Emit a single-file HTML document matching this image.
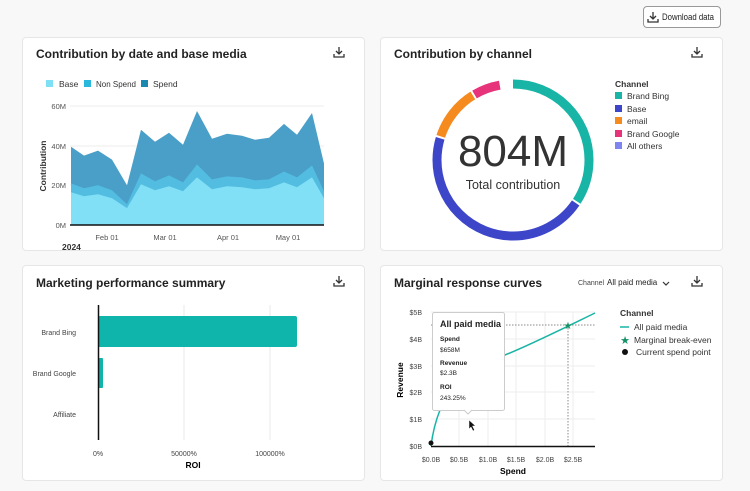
<!DOCTYPE html>
<html><head><meta charset="utf-8"><style>
body{margin:0;width:750px;height:491px;background:#f8f8f8;font-family:"Liberation Sans",sans-serif;position:relative;overflow:hidden;color:#222}
.card{position:absolute;background:#fff;border:1px solid #e6e6e6;border-radius:4px}
.t{position:absolute;font-weight:bold;font-size:12px;color:#222;white-space:nowrap}
.btn{position:absolute;left:643px;top:6px;width:78px;height:22px;border:1px solid #999;border-radius:4px;background:#fff;box-sizing:border-box}
svg{position:absolute;left:0;top:0}
</style></head><body>
<div class="btn"></div>
<div class="card" style="left:22px;top:37px;width:341px;height:212px"></div>
<div class="card" style="left:380px;top:37px;width:341px;height:212px"></div>
<div class="card" style="left:22px;top:265px;width:341px;height:214px"></div>
<div class="card" style="left:380px;top:265px;width:341px;height:214px"></div>
<div class="t" style="left:36px;top:47px">Contribution by date and base media</div>
<div class="t" style="left:394px;top:47px">Contribution by channel</div>
<div class="t" style="left:36px;top:276px">Marketing performance summary</div>
<div class="t" style="left:394px;top:276px">Marginal response curves</div>
<svg width="750" height="491" font-family="Liberation Sans, sans-serif">
<text x="662" y="20" font-size="9" fill="#222" textLength="52" lengthAdjust="spacingAndGlyphs">Download data</text>
<g fill="none" stroke="#333" stroke-width="1.3">
<path d="M653 12v7m-3-3l3 3 3-3M648 19v3h10v-3"/>
<path d="M339 47v7m-3-3l3 3 3-3M334 54v3h10v-3"/>
<path d="M697 47v7m-3-3l3 3 3-3M692 54v3h10v-3"/>
<path d="M339 276v7m-3-3l3 3 3-3M334 283v3h10v-3"/>
<path d="M697 276v7m-3-3l3 3 3-3M692 283v3h10v-3"/>
</g>
<g font-size="8.5" fill="#333">
<rect x="46" y="80" width="7" height="7" fill="#7fe0f5"/><text x="59" y="87">Base</text>
<rect x="84" y="80" width="7" height="7" fill="#2ab8dc"/><text x="96" y="87" textLength="40" lengthAdjust="spacingAndGlyphs">Non Spend</text>
<rect x="141" y="80" width="7" height="7" fill="#1a88b0"/><text x="153" y="87">Spend</text>
<g text-anchor="end" fill="#555" font-size="7.5"><text x="66" y="109">60M</text><text x="66" y="149">40M</text><text x="66" y="188">20M</text><text x="66" y="228">0M</text></g>
<g fill="#555" font-size="7.5" text-anchor="middle"><text x="107" y="240">Feb 01</text><text x="165" y="240">Mar 01</text><text x="228" y="240">Apr 01</text><text x="288" y="240">May 01</text></g>
<text x="62" y="250" font-weight="bold" font-size="8.5">2024</text>
<text transform="translate(46,166) rotate(-90)" text-anchor="middle" font-weight="bold" font-size="8.5">Contribution</text>
</g>
<g stroke="#eee"><line x1="70" x2="324" y1="106" y2="106"/><line x1="70" x2="324" y1="146" y2="146"/><line x1="70" x2="324" y1="185" y2="185"/></g>
<path id="sp" fill="#4a9fc8"/><path id="ns" fill="#52bde0"/><path id="bs" fill="#82e0f6"/>
<line x1="70" x2="324" y1="225" y2="225" stroke="#111" stroke-width="1.5"/>
<g fill="none" stroke-width="9">
<circle cx="513" cy="160" r="76" stroke="#18b4a6" stroke-dasharray="163 1000" transform="rotate(-90 513 160)"/>
<circle cx="513" cy="160" r="76" stroke="#3d46c9" stroke-dasharray="0 165 215 1000" transform="rotate(-90 513 160)"/>
<circle cx="513" cy="160" r="76" stroke="#f58a1f" stroke-dasharray="0 382 53 1000" transform="rotate(-90 513 160)"/>
<circle cx="513" cy="160" r="76" stroke="#e6337a" stroke-dasharray="0 437 27 1000" transform="rotate(-90 513 160)"/>
</g>
<text x="513" y="166" text-anchor="middle" font-size="44" fill="#333">804M</text>
<text x="513" y="189" text-anchor="middle" font-size="12.5" fill="#333">Total contribution</text>
<g font-size="8.5" fill="#333">
<text x="615" y="87" font-weight="bold">Channel</text>
<rect x="615" y="92" width="7" height="7" fill="#18b4a6"/><text x="627" y="99">Brand Bing</text>
<rect x="615" y="105" width="7" height="7" fill="#3d46c9"/><text x="627" y="112">Base</text>
<rect x="615" y="117" width="7" height="7" fill="#f58a1f"/><text x="627" y="124">email</text>
<rect x="615" y="130" width="7" height="7" fill="#e6337a"/><text x="627" y="137">Brand Google</text>
<rect x="615" y="142" width="7" height="7" fill="#7e85f0"/><text x="627" y="149">All others</text>
</g>
<g stroke="#e8e8e8"><line x1="184" x2="184" y1="305" y2="440"/><line x1="270" x2="270" y1="305" y2="440"/></g>
<rect x="98" y="316" width="199" height="31" rx="2" fill="#0fb5aa"/>
<rect x="98" y="358" width="5" height="30" rx="1" fill="#0fb5aa"/>
<line x1="98.5" x2="98.5" y1="305" y2="440" stroke="#111" stroke-width="1.5"/>
<g font-size="7" fill="#444" text-anchor="end"><text x="76" y="335">Brand Bing</text><text x="76" y="376">Brand Google</text><text x="76" y="417">Affiliate</text></g>
<g font-size="7" fill="#444" text-anchor="middle"><text x="98" y="456">0%</text><text x="184" y="456">50000%</text><text x="270" y="456">100000%</text></g>
<text x="193" y="468" font-size="8.5" font-weight="bold" text-anchor="middle">ROI</text>
<text x="578" y="285" font-size="7" fill="#444">Channel</text>
<text x="607" y="285" font-size="8" fill="#222">All paid media</text>
<path d="M663 282l3 3 3-3" stroke="#333" fill="none" stroke-width="1.2"/>
<g stroke="#eee"><line x1="431" x2="595" y1="312" y2="312"/><line x1="431" x2="595" y1="339" y2="339"/><line x1="431" x2="595" y1="366" y2="366"/><line x1="431" x2="595" y1="392" y2="392"/><line x1="431" x2="595" y1="419" y2="419"/>
<line x1="459" x2="459" y1="312" y2="446"/><line x1="488" x2="488" y1="312" y2="446"/><line x1="516" x2="516" y1="312" y2="446"/><line x1="545" x2="545" y1="312" y2="446"/><line x1="573" x2="573" y1="312" y2="446"/></g>
<g stroke="#888" stroke-dasharray="1.5 1.5"><line x1="568" x2="568" y1="325" y2="446"/><line x1="431" x2="595" y1="325" y2="325"/></g>
<path d="M431 446 C433 430 436 420 440 410 C455 378 480 365 505 355 C530 345 560 330 595 313" fill="none" stroke="#18b4a6" stroke-width="1.5"/>
<line x1="431" x2="595" y1="446.5" y2="446.5" stroke="#111" stroke-width="1.5"/>
<circle cx="431" cy="443" r="2.5" fill="#111"/>
<text x="568" y="329" font-size="10" fill="#139064" text-anchor="middle">★</text>
<g font-size="7" fill="#444" text-anchor="end"><text x="422" y="315">$5B</text><text x="422" y="342">$4B</text><text x="422" y="369">$3B</text><text x="422" y="395">$2B</text><text x="422" y="422">$1B</text><text x="422" y="449">$0B</text></g>
<g font-size="7" fill="#444" text-anchor="middle"><text x="431" y="462">$0.0B</text><text x="459" y="462">$0.5B</text><text x="488" y="462">$1.0B</text><text x="516" y="462">$1.5B</text><text x="545" y="462">$2.0B</text><text x="573" y="462">$2.5B</text></g>
<text x="513" y="474" font-size="8.5" font-weight="bold" text-anchor="middle">Spend</text>
<text transform="translate(403,380) rotate(-90)" font-size="8.5" font-weight="bold" text-anchor="middle">Revenue</text>
<rect x="432.5" y="312.5" width="72" height="98" rx="2" fill="#fff" stroke="#ccc"/>
<path d="M464 410l4 4 4-4" fill="#fff" stroke="#ccc"/>
<g fill="#222"><text x="440" y="327" font-size="9" font-weight="bold">All paid media</text>
<text x="440" y="341" font-size="6.5" font-weight="bold">Spend</text><text x="440" y="352" font-size="6.5">$658M</text>
<text x="440" y="365" font-size="6.5" font-weight="bold">Revenue</text><text x="440" y="375" font-size="6.5">$2.3B</text>
<text x="440" y="389" font-size="6.5" font-weight="bold">ROI</text><text x="440" y="400" font-size="6.5">243.25%</text></g>
<path d="M469 420l0 9 2-2 2 4 1.5-1-2-4 3 0z" fill="#111" stroke="#fff" stroke-width=".5"/>
<g font-size="8.5" fill="#333">
<text x="620" y="316" font-weight="bold">Channel</text>
<line x1="620" x2="629" y1="327" y2="327" stroke="#18b4a6" stroke-width="1.5"/><text x="634" y="330">All paid media</text>
<text x="625" y="344" font-size="11" fill="#139064" text-anchor="middle">★</text><text x="634" y="343">Marginal break-even</text>
<circle cx="625" cy="352" r="3" fill="#111"/><text x="636" y="355">Current spend point</text>
</g>
</svg>
<script>
var xs=[71,84,98,112,127,141,155,169,183,197,212,227,242,255,269,284,297,312,324];
var S=[39.5,35,37.5,33,20,48,42,46.5,40.5,57.5,43.5,46,45,43,44,51,45.5,56.5,31];
var N=[21,18.5,20,17.5,10.5,26,22,25,21.5,30.5,23,24.5,24,22.5,23,27,24,30,17];
var B=[16.5,14.5,15.5,13.5,8.5,20.5,17.5,19.5,17,24,18,19.5,19,18,18.5,21.5,19,24,13.5];
function p(a){var d="M71 225";for(var i=0;i<xs.length;i++)d+="L"+xs[i]+" "+(225-a[i]*1.983).toFixed(1);return d+"L324 225Z";}
document.getElementById("sp").setAttribute("d",p(S));
document.getElementById("ns").setAttribute("d",p(N));
document.getElementById("bs").setAttribute("d",p(B));
</script>
</body></html>
